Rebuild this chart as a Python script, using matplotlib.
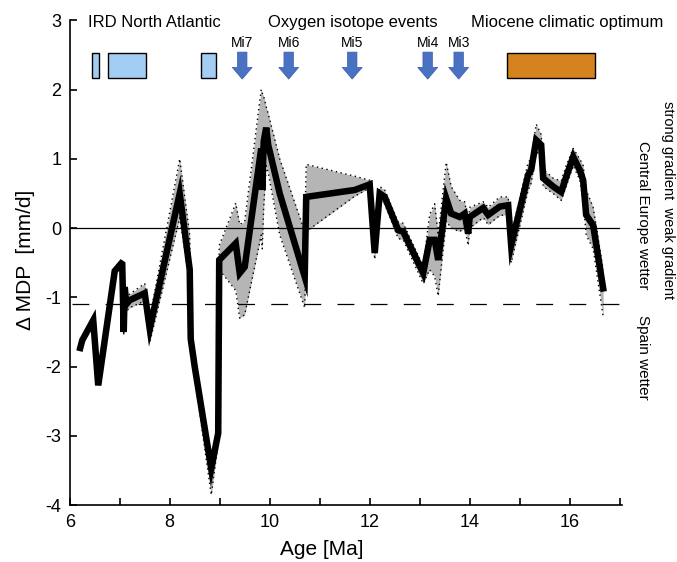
import numpy as np
import matplotlib.pyplot as plt
from matplotlib.patches import Rectangle, FancyArrow

plt.rcParams['font.family'] = ['Liberation Sans', 'DejaVu Sans']
plt.rcParams['axes.unicode_minus'] = False

# Age [Ma], mean Delta MDP [mm/d] and its range
age = [6.21, 6.25, 6.47, 6.57, 6.9, 7.03, 7.05, 7.08, 7.1, 7.13, 7.2, 7.5, 7.6,
       8.0, 8.2, 8.4, 8.42, 8.5, 8.83, 8.97, 8.99, 9.32, 9.4, 9.5, 9.83, 9.85, 9.88,
       9.93, 9.97, 10.2, 10.7, 10.73, 11.7, 12.0, 12.1, 12.2, 12.3, 12.57, 12.67,
       13.07, 13.2, 13.3, 13.37, 13.53, 13.63, 13.8, 13.9, 13.97, 14.0, 14.27,
       14.37, 14.6, 14.77, 14.83, 15.17, 15.23, 15.33, 15.43, 15.47, 15.67,
       15.83, 15.93, 16.07, 16.2, 16.27, 16.33, 16.47, 16.67]
mdp = [-1.73, -1.62, -1.33, -2.27, -0.62, -0.51, -0.52, -1.5, -0.85, -1.1, -1.04,
       -0.94, -1.45, -0.15, 0.5, -0.6, -1.6, -2.0, -3.47, -2.96, -0.46, -0.22, -0.65,
       -0.56, 1.15, 0.55, 1.25, 1.45, 1.2, 0.5, -0.7, 0.45, 0.55, 0.63, -0.36,
       0.5, 0.45, -0.03, -0.05, -0.65, -0.17, -0.17, -0.46, 0.43, 0.21, 0.16,
       0.21, -0.08, 0.16, 0.29, 0.19, 0.31, 0.33, -0.25, 0.77, 0.84, 1.27, 1.2,
       0.72, 0.6, 0.52, 0.74, 1.03, 0.84, 0.69, 0.19, 0.04, -0.87]
mdp_lo = [-1.73, -1.62, -1.33, -2.27, -0.62, -0.51, -0.52, -1.55, -0.95, -1.2,
          -1.15, -1.05, -1.65, -0.45, 0.15, -0.8, -1.75, -2.15, -3.85, -3.1, -0.6, -0.9,
          -1.3, -1.25, -0.1, -0.3, 0.3, 0.9, 0.8, -0.1, -1.15, -0.05, 0.46, 0.58,
          -0.45, 0.4, 0.35, -0.15, -0.17, -0.8, -0.6, -0.7, -0.98, 0.1, 0.0,
          -0.05, 0.0, -0.25, 0.0, 0.15, 0.05, 0.18, 0.2, -0.5, 0.55, 0.65, 1.1,
          1.05, 0.6, 0.5, 0.4, 0.6, 0.9, 0.7, 0.4, -0.1, -0.3, -1.28]
mdp_hi = [-1.73, -1.62, -1.33, -2.27, -0.62, -0.51, -0.52, -1.45, -0.8, -1.0,
          -0.95, -0.8, -1.3, 0.23, 1.0, -0.1, -1.45, -1.85, -3.3, -2.85, -0.25, 0.36,
          0.05, 0.1, 2.0, 1.95, 1.9, 1.75, 1.65, 1.0, -0.05, 0.92, 0.75, 0.69,
          -0.25, 0.6, 0.55, 0.09, 0.07, -0.55, 0.2, 0.35, -0.1, 0.95, 0.6, 0.4,
          0.38, 0.1, 0.3, 0.38, 0.3, 0.45, 0.45, -0.1, 0.95, 1.0, 1.5, 1.35,
          0.85, 0.72, 0.68, 0.9, 1.15, 1.0, 0.9, 0.55, 0.3, -0.6]

# top annotations
ird_start = [6.44, 6.76, 8.62]
ird_end = [6.58, 7.52, 8.92]
mi_names = ['Mi7', 'Mi6', 'Mi5', 'Mi4', 'Mi3']
mi_age = [9.45, 10.38, 11.65, 13.16, 13.78]
mco_start, mco_end = 14.74, 16.5

fig = plt.figure(figsize=(6.77, 5.62), dpi=100)
ax = fig.add_axes([0.103, 0.101, 0.816, 0.863])

ax.fill_between(age, mdp_lo, mdp_hi, color='#b5b5b5', lw=0, zorder=1)
ax.plot(age, mdp_lo, color='k', ls=(0, (1, 2.5)), lw=1.0, zorder=2)
ax.plot(age, mdp_hi, color='k', ls=(0, (1, 2.5)), lw=1.0, zorder=2)
ax.axhline(0, color='k', lw=0.9, xmin=0, xmax=0.995, zorder=1.5)
ax.axhline(-1.1, color='k', lw=0.9, ls=(0, (13.5, 13)), xmin=0.005, xmax=0.995, zorder=1.5)
ax.plot(age, mdp, color='k', lw=4.7, solid_joinstyle='miter', zorder=3)

bh = 2.53 - 2.17
for s, e in zip(ird_start, ird_end):
    ax.add_patch(Rectangle((s, 2.17), e - s, bh, fc='#a3cdf2', ec='k', lw=1.0, zorder=4))
ax.add_patch(Rectangle((mco_start, 2.17), mco_end - mco_start, bh, fc='#d4831f', ec='k', lw=1.0, zorder=4))
for name, a in zip(mi_names, mi_age):
    ax.add_patch(FancyArrow(a, 2.54, 0, -0.39, width=0.19, head_width=0.4,
                            head_length=0.17, length_includes_head=True,
                            fc='#4a72c2', ec='#3a5ea8', lw=0.5, zorder=4))
    ax.text(a, 2.67, name, ha='center', va='center', fontsize=10)

ax.text(6.36, 2.97, 'IRD North Atlantic', ha='left', va='center', fontsize=12)
ax.text(9.96, 2.97, 'Oxygen isotope events', ha='left', va='center', fontsize=12)
ax.text(14.02, 2.97, 'Miocene climatic optimum', ha='left', va='center', fontsize=12)

ax.text(1.083, 0.63, 'strong gradient  weak gradient', transform=ax.transAxes,
        rotation=-90, ha='center', va='center', fontsize=10.5)
ax.text(1.038, 0.598, 'Central Europe wetter', transform=ax.transAxes,
        rotation=-90, ha='center', va='center', fontsize=11)
ax.text(1.038, 0.305, 'Spain wetter', transform=ax.transAxes,
        rotation=-90, ha='center', va='center', fontsize=11)

ax.set_xlim(6, 17.05)
ax.set_ylim(-4, 3)
ax.set_xticks([6, 8, 10, 12, 14, 16])
ax.set_xticks([7, 9, 11, 13, 15, 17], minor=True)
ax.set_yticks(range(-4, 4))
ax.tick_params(which='both', direction='in', labelsize=13, width=1.2)
ax.tick_params(which='major', length=5, pad=6)
ax.tick_params(which='minor', length=5)
for side in ['top', 'right']:
    ax.spines[side].set_visible(False)
for side in ['left', 'bottom']:
    ax.spines[side].set_linewidth(1.2)

ax.set_ylabel('Δ MDP  [mm/d]', fontsize=15)
ax.yaxis.set_label_coords(-0.062, 0.505)
ax.set_xlabel('Age [Ma]', fontsize=15)
ax.xaxis.set_label_coords(0.456, -0.071)

fig.savefig('out.png', dpi=100)
